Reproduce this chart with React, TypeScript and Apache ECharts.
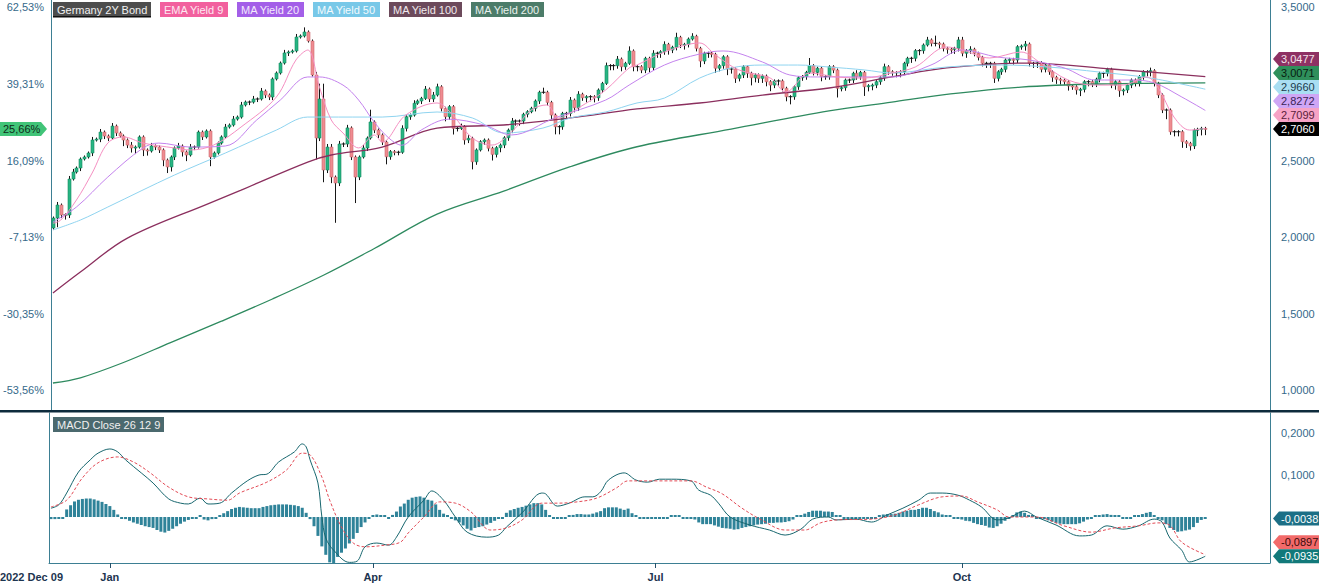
import React, { useEffect, useRef } from "react";
import * as echarts from "echarts";

// ---------------- DATA ----------------
const firstOpen = 2.059;
const basePrice = 2.1535; // price equal to 0 % on the left scale
const startDateLabel = "2022 Dec 09";

const closesPart1 = [
  2.124, 2.209, 2.144, 2.144, 2.379, 2.425, 2.451, 2.510, 2.523, 2.549,
  2.634, 2.640, 2.686, 2.660, 2.647, 2.725, 2.680, 2.660, 2.634, 2.601,
  2.582, 2.588, 2.654, 2.569, 2.562, 2.595, 2.588, 2.569, 2.503, 2.458,
  2.523, 2.582, 2.595, 2.556, 2.536, 2.588, 2.588, 2.686, 2.654, 2.693,
  2.523, 2.549, 2.614, 2.654, 2.719, 2.732, 2.771, 2.784, 2.863, 2.882,
  2.882, 2.902, 2.902, 2.954, 2.928, 2.915, 3.033, 3.072, 3.137, 3.203,
  3.209, 3.216, 3.307, 3.314, 3.340, 3.281, 3.059, 2.647, 2.902, 2.438,
  2.588, 2.392, 2.353, 2.608, 2.608, 2.713, 2.523, 2.392, 2.523, 2.582,
  2.647, 2.752, 2.699, 2.667, 2.621,
];
const closesPart2 = [
  2.525, 2.558, 2.554, 2.554, 2.710, 2.786, 2.797, 2.874, 2.889, 2.906,
  2.967, 2.902, 2.928, 2.982, 2.841, 2.786, 2.852, 2.710, 2.710, 2.721,
  2.634, 2.645, 2.492, 2.569, 2.623, 2.634, 2.580, 2.540, 2.584, 2.601,
  2.649, 2.699, 2.758, 2.758, 2.758, 2.802, 2.819, 2.841, 2.889, 2.946,
  2.946, 2.880, 2.797, 2.721, 2.721, 2.808, 2.808, 2.895, 2.845, 2.933,
  2.910, 2.917, 2.917, 2.910, 2.961, 3.004, 3.120, 3.120, 3.120, 3.163,
  3.113, 3.135, 3.216, 3.113, 3.113, 3.091,
];
const closesPart3 = [
  3.168, 3.107, 3.201, 3.201, 3.211, 3.259, 3.222, 3.240, 3.305, 3.255,
  3.259, 3.294, 3.312, 3.233, 3.150, 3.201, 3.201, 3.194, 3.103, 3.120,
  3.178, 3.098, 3.098, 3.037, 3.059, 3.113, 3.070, 3.041, 3.059, 3.037,
  3.052, 3.015, 2.993, 3.020, 3.020, 2.972, 2.917, 2.917, 2.982, 3.041,
  3.048, 3.076, 3.120, 3.076, 3.103, 3.048, 3.048, 3.113, 3.091, 2.972,
  2.976, 3.026, 3.026, 3.070, 3.048, 3.076, 2.982, 2.989, 2.993, 3.015,
  3.041, 3.113, 3.080,
];
const closesPart4 = [
  3.074, 3.074, 3.080, 3.135, 3.168, 3.168, 3.218, 3.218, 3.255, 3.288,
  3.266, 3.266, 3.261, 3.233, 3.228, 3.227, 3.233, 3.288, 3.201, 3.218,
  3.227, 3.201, 3.174, 3.135, 3.135, 3.135, 3.037, 3.080, 3.096, 3.157,
  3.161, 3.157, 3.244, 3.248, 3.261, 3.135, 3.135, 3.139, 3.096, 3.124,
  3.080, 3.044, 3.031, 3.026, 3.015, 2.987, 2.982, 2.961, 2.965, 3.015,
  3.015, 3.000, 3.031, 3.070, 3.070, 3.096, 2.993, 3.015, 2.956, 2.961,
  2.993, 3.026, 3.004, 3.048, 3.080, 3.080, 3.087, 3.004, 2.928, 2.830,
  2.830, 2.688, 2.688, 2.688, 2.623, 2.612, 2.595, 2.699, 2.704, 2.710,
  2.706,
];

// wick lengths beyond the body, in hundredths of a yield point
const upperWickPart1 = [
  1, 2, 1, 1, 2, 2, 1, 1, 1, 1, 2, 1, 2, 1, 1, 2, 1, 1, 1, 1,
  2, 1, 1, 1, 1, 2, 1, 1, 1, 1, 1, 1, 2, 1, 1, 2, 1, 1, 1, 1,
  1, 1, 1, 1, 2, 1, 2, 1, 2, 1, 1, 2, 1, 2, 1, 1, 1, 1, 1, 2,
  1, 1, 2, 1, 3, 1, 1, 2, 10, 10, 2, 2, 1, 2, 1, 2, 1, 1, 1, 2,
  1, 8, 1, 1, 1,
];
const lowerWickPart1 = [
  1, 6, 2, 3, 2, 1, 1, 2, 1, 1, 2, 1, 2, 2, 2, 1, 2, 1, 4, 2,
  3, 4, 1, 4, 3, 1, 2, 2, 4, 4, 3, 2, 1, 3, 4, 1, 2, 1, 2, 1,
  6, 1, 1, 1, 1, 1, 1, 1, 1, 1, 2, 1, 2, 1, 2, 2, 2, 1, 1, 1,
  2, 1, 1, 1, 1, 1, 1, 14, 2, 8, 2, 4, 26, 2, 2, 2, 2, 17, 2, 1,
  2, 1, 2, 2, 2,
];
const upperWickPart2 = [
  1, 1, 1, 1, 2, 1, 1, 2, 1, 1, 2, 1, 2, 2, 1, 1, 1, 1, 1, 2,
  1, 2, 1, 1, 1, 1, 1, 1, 1, 1, 1, 1, 2, 1, 1, 1, 1, 1, 1, 1,
  3, 1, 1, 1, 1, 1, 1, 2, 1, 2, 1, 1, 1, 1, 1, 1, 2, 1, 1, 2,
  1, 1, 3, 1, 1, 1,
];
const lowerWickPart2 = [
  5, 2, 2, 2, 1, 2, 2, 1, 1, 2, 1, 2, 2, 1, 2, 3, 2, 4, 2, 1,
  3, 2, 5, 2, 1, 2, 2, 4, 2, 3, 2, 2, 2, 3, 3, 2, 2, 1, 2, 2,
  1, 2, 3, 5, 5, 2, 3, 2, 3, 2, 2, 3, 3, 3, 2, 2, 1, 3, 3, 2,
  3, 2, 1, 3, 3, 2,
];
const upperWickPart3 = [
  1, 1, 2, 1, 1, 2, 1, 1, 3, 1, 1, 1, 2, 1, 1, 1, 1, 1, 1, 1,
  1, 1, 1, 1, 1, 1, 1, 1, 1, 1, 1, 1, 1, 1, 1, 1, 1, 1, 1, 1,
  1, 1, 5, 1, 1, 1, 1, 1, 1, 1, 1, 1, 1, 1, 2, 1, 1, 1, 1, 1,
  1, 2, 1,
];
const lowerWickPart3 = [
  2, 3, 2, 3, 3, 2, 3, 2, 2, 2, 3, 2, 1, 2, 4, 2, 3, 2, 3, 2,
  2, 4, 3, 3, 2, 2, 3, 5, 3, 3, 3, 3, 4, 2, 3, 2, 3, 5, 2, 2,
  2, 2, 1, 2, 2, 3, 2, 2, 2, 6, 2, 2, 2, 2, 2, 2, 6, 3, 3, 2,
  2, 2, 2,
];
const upperWickPart4 = [
  1, 1, 1, 1, 1, 1, 1, 1, 1, 2, 1, 5, 1, 1, 1, 1, 1, 2, 2, 1,
  2, 1, 1, 1, 1, 1, 1, 1, 1, 1, 1, 1, 1, 1, 2, 1, 1, 1, 1, 1,
  1, 1, 1, 1, 1, 1, 1, 1, 1, 1, 1, 1, 1, 1, 1, 1, 1, 1, 1, 1,
  1, 1, 1, 1, 1, 1, 2, 1, 1, 1, 1, 1, 1, 1, 1, 1, 1, 1, 1, 1,
  1,
];
const lowerWickPart4 = [
  2, 3, 3, 2, 2, 3, 2, 3, 2, 1, 2, 2, 3, 2, 3, 3, 3, 2, 2, 3,
  2, 2, 2, 2, 3, 3, 3, 2, 2, 2, 2, 3, 2, 2, 3, 2, 3, 3, 2, 2,
  2, 3, 3, 3, 2, 3, 2, 3, 4, 2, 3, 2, 2, 2, 3, 2, 2, 3, 4, 3,
  2, 2, 2, 2, 2, 3, 3, 2, 2, 2, 6, 2, 3, 3, 4, 3, 3, 2, 4, 4,
  4,
];

// moving averages: [candle index, value]
const ema9Points = [
  [0, 2.09], [2, 2.111], [6, 2.242], [10, 2.418], [14, 2.614], [18, 2.654], [23, 2.614], [31, 2.582],
  [35, 2.569], [41, 2.601], [48, 2.719], [57, 2.915], [62, 3.157], [65, 3.222], [68, 2.98], [71, 2.765],
  [74, 2.68], [78, 2.582], [82, 2.667], [84, 2.621], [90, 2.797], [98, 2.876], [102, 2.797], [107, 2.647],
  [112, 2.601], [117, 2.686], [122, 2.83], [126, 2.863], [129, 2.778], [134, 2.843], [141, 2.961],
  [147, 3.105], [149, 3.124], [156, 3.209], [165, 3.268], [169, 3.19], [175, 3.092], [183, 3.039],
  [187, 2.948], [193, 3.072], [200, 3.046], [207, 3.039], [214, 3.072], [220, 3.111], [228, 3.242],
  [232, 3.222], [239, 3.17], [247, 3.209], [252, 3.137], [259, 3.026], [266, 2.993], [273, 2.993],
  [279, 3.046], [282, 2.974], [286, 2.784], [290, 2.699], [294, 2.7099],
];
const ma20Points = [
  [0, 2.098], [6, 2.196], [14, 2.392], [23, 2.582], [27, 2.614], [35, 2.588], [44, 2.595], [52, 2.765],
  [58, 2.895], [65, 3.046], [68, 3.046], [74, 2.993], [78, 2.895], [82, 2.75], [86, 2.64], [89, 2.6],
  [94, 2.7], [101, 2.77], [110, 2.732], [117, 2.667], [128, 2.778], [141, 2.895], [147, 2.993],
  [156, 3.124], [165, 3.196], [171, 3.216], [181, 3.144], [188, 3.059], [195, 3.046], [207, 3.046],
  [214, 3.046], [224, 3.124], [232, 3.222], [241, 3.176], [249, 3.157], [258, 3.105], [266, 3.026],
  [275, 3.026], [281, 3.007], [288, 2.915], [294, 2.8272],
];
const ma50Points = [
  [0, 2.046], [7, 2.111], [14, 2.196], [31, 2.405], [44, 2.549], [57, 2.699], [65, 2.784], [69, 2.784],
  [84, 2.784], [98, 2.817], [107, 2.778], [115, 2.68], [125, 2.712], [132, 2.778], [141, 2.817],
  [149, 2.876], [156, 2.908], [165, 3.039], [173, 3.105], [181, 3.124], [190, 3.124], [198, 3.111],
  [207, 3.092], [214, 3.072], [228, 3.111], [242, 3.124], [254, 3.111], [267, 3.078], [280, 3.039],
  [294, 2.966],
];
const ma100Points = [
  [0, 1.634], [7, 1.771], [19, 1.993], [40, 2.222], [48, 2.307], [65, 2.49], [71, 2.536], [84, 2.588],
  [98, 2.712], [115, 2.732], [132, 2.778], [149, 2.837], [165, 2.876], [181, 2.928], [198, 2.974],
  [214, 3.046], [228, 3.105], [249, 3.137], [270, 3.098], [294, 3.0477],
];
const ma200Points = [
  [0, 1.046], [7, 1.08], [18, 1.18], [30, 1.31], [43, 1.45], [56, 1.595], [69, 1.75], [82, 1.925],
  [98, 2.15], [115, 2.3], [132, 2.46], [149, 2.59], [173, 2.705], [198, 2.824], [214, 2.882],
  [229, 2.935], [247, 2.98], [267, 3.0], [294, 3.0071],
];

// MACD (26, 12, 9)
const macdPoints = [
  [0, 0.021], [2, 0.029], [4, 0.057], [7, 0.107], [10, 0.136], [12, 0.152], [15, 0.162], [17, 0.155],
  [19, 0.136], [23, 0.105], [26, 0.081], [30, 0.043], [33, 0.033], [35, 0.031], [38, 0.045], [40, 0.031],
  [43, 0.033], [46, 0.057], [50, 0.086], [53, 0.1], [55, 0.102], [58, 0.131], [62, 0.155], [64, 0.174],
  [65, 0.167], [66, 0.136], [68, 0.081], [69, 0.0], [70, -0.05], [72, -0.079], [76, -0.108], [78, -0.105],
  [80, -0.071], [83, -0.062], [86, -0.067], [88, -0.048], [91, 0.0], [95, 0.04], [97, 0.062], [100, 0.04],
  [103, 0.0], [106, -0.036], [111, -0.048], [114, -0.043], [116, -0.024], [120, 0.01], [125, 0.057],
  [126, 0.055], [129, 0.026], [132, 0.033], [136, 0.048], [138, 0.048], [140, 0.06], [142, 0.088],
  [146, 0.105], [149, 0.088], [152, 0.083], [155, 0.09], [158, 0.09], [163, 0.086], [165, 0.064],
  [168, 0.052], [170, 0.033], [173, 0.0], [178, -0.019], [183, -0.031], [187, -0.043], [191, -0.029],
  [194, -0.005], [198, 0.0], [200, -0.007], [205, -0.005], [209, -0.012], [213, 0.005], [217, 0.021],
  [221, 0.04], [224, 0.057], [227, 0.057], [231, 0.052], [234, 0.04], [237, 0.024], [241, -0.007],
  [244, -0.002], [248, 0.014], [251, 0.0], [256, -0.019], [262, -0.045], [265, -0.043], [269, -0.021],
  [273, -0.029], [277, -0.021], [281, -0.005], [283, -0.012], [285, -0.05], [288, -0.079], [290, -0.107],
  [294, -0.0935],
];
const signalPoints = [
  [0, 0.024], [4, 0.04], [8, 0.093], [12, 0.129], [17, 0.143], [21, 0.131], [25, 0.107], [30, 0.071],
  [35, 0.048], [40, 0.043], [45, 0.04], [48, 0.057], [55, 0.083], [60, 0.112], [64, 0.152], [66, 0.148],
  [69, 0.095], [71, 0.04], [74, -0.024], [77, -0.062], [80, -0.071], [85, -0.067], [89, -0.06],
  [91, -0.038], [95, 0.0], [99, 0.036], [103, 0.033], [107, 0.012], [112, -0.031], [116, -0.026],
  [120, -0.007], [125, 0.033], [129, 0.033], [134, 0.036], [139, 0.045], [144, 0.069], [147, 0.086],
  [154, 0.086], [163, 0.086], [167, 0.071], [171, 0.055], [176, 0.021], [181, -0.007], [187, -0.031],
  [192, -0.031], [196, -0.014], [200, -0.007], [209, -0.005], [215, 0.005], [221, 0.029], [227, 0.048],
  [232, 0.05], [236, 0.036], [241, 0.017], [244, 0.0], [251, 0.0], [258, -0.021], [265, -0.036],
  [271, -0.026], [277, -0.021], [282, -0.014], [285, -0.02], [288, -0.06], [294, -0.0897],
];
const histPart1 = [
  -0.005, -0.005, -0.004, -0.003, 0.018, 0.028, 0.037, 0.041, 0.043, 0.044,
  0.044, 0.042, 0.039, 0.036, 0.031, 0.026, 0.017, 0.006, -0.001, -0.005,
  -0.009, -0.013, -0.016, -0.019, -0.022, -0.024, -0.026, -0.031, -0.035, -0.037,
  -0.033, -0.028, -0.022, -0.016, -0.011, -0.007, -0.004, -0.002, 0.002, -0.006,
  -0.008, -0.005, -0.001, 0.004, 0.009, 0.014, 0.019, 0.022, 0.024, 0.023,
  0.022, 0.021, 0.021, 0.021, 0.024, 0.026, 0.028, 0.029, 0.030, 0.030,
  0.030, 0.029, 0.028, 0.026, 0.022, 0.010, -0.005, -0.022, -0.045, -0.070,
  -0.090, -0.108, -0.111, -0.095, -0.085, -0.075, -0.063, -0.052, -0.038, -0.024,
  -0.013, -0.004, 0.004, 0.006, 0.004,
];
const histPart2 = [
  0.000, -0.001, 0.005, 0.013, 0.025,
  0.032, 0.041, 0.046, 0.048, 0.049, 0.046, 0.041, 0.039, 0.030, 0.017,
  0.008, 0.001, -0.004, -0.008, -0.013, -0.020, -0.028, -0.032, -0.026, -0.024,
  -0.022, -0.018, -0.014, -0.009, -0.004, -0.002, 0.010, 0.016, 0.019, 0.022,
  0.024, 0.027, 0.030, 0.033, 0.033, 0.030, 0.017, 0.002, -0.002, -0.002,
  -0.002, -0.001, 0.002, 0.005, 0.007, 0.007, 0.006, 0.006, 0.008, 0.011,
  0.014, 0.021, 0.023, 0.023, 0.023, 0.020, 0.017, 0.020, 0.009, 0.002,
  -0.001,
];
const histPart3 = [
  -0.002, -0.002, -0.002, -0.002, -0.001, -0.001, -0.001, 0.000, 0.002,
  0.000, -0.001, -0.002, -0.002, -0.006, -0.013, -0.017, -0.017, -0.017, -0.020,
  -0.023, -0.026, -0.027, -0.028, -0.030, -0.029, -0.026, -0.024, -0.022, -0.020,
  -0.018, -0.017, -0.016, -0.014, -0.014, -0.013, -0.013, -0.012, -0.010, -0.006,
  0.000, 0.003, 0.008, 0.012, 0.015, 0.015, 0.015, 0.013, 0.013, 0.012,
  0.004, 0.002, -0.001, -0.001, -0.002, -0.002, -0.001, -0.003, -0.004, -0.004,
  -0.002, 0.002, 0.006, 0.007,
];
const histPart4 = [
  0.007, 0.008, 0.010, 0.013, 0.015, 0.017,
  0.017, 0.019, 0.022, 0.022, 0.019, 0.014, 0.011, 0.006, 0.003, 0.001,
  -0.001, -0.003, -0.006, -0.009, -0.010, -0.014, -0.017, -0.019, -0.021, -0.025,
  -0.026, -0.022, -0.016, -0.009, -0.001, 0.004, 0.011, 0.013, 0.010, 0.005,
  0.000, -0.002, -0.002, -0.005, -0.008, -0.011, -0.014, -0.016, -0.017, -0.017,
  -0.017, -0.017, -0.015, -0.011, -0.006, -0.002, 0.000, 0.002, 0.006, 0.007,
  0.005, 0.003, 0.000, -0.001, -0.001, -0.001, 0.000, 0.003, 0.007, 0.010,
  0.012, 0.004, -0.002, -0.008, -0.017, -0.026, -0.031, -0.035, -0.034, -0.032,
  -0.030, -0.024, -0.014, -0.007, -0.0038,
];

const monthTicks = [
  { index: 15, label: "Jan" },
  { index: 82, label: "Apr" },
  { index: 154, label: "Jul" },
  { index: 232, label: "Oct" },
];
const priceTicksRight = [1.0, 1.5, 2.0, 2.5, 3.5];
const priceTicksLeft = [1.0, 1.5, 2.0, 2.5, 3.0, 3.5];
const macdTicks = [0.1, 0.2];
const legendLabels = ["Germany 2Y Bond", "EMA Yield 9", "MA Yield 20", "MA Yield 50", "MA Yield 100", "MA Yield 200"];
const macdTitle = "MACD Close 26 12 9";
const priceMarkerValues = [3.0477, 3.0071, 2.966, 2.8272, 2.7099, 2.706];
const macdMarkerValues = [-0.0038, -0.0897, -0.0935];

// ---------------- STYLE ----------------
const FONT = '"Liberation Sans", Arial, Helvetica, sans-serif';
const AXIS_COLOR = "#3d7f93";
const LABEL_COLOR = "#35698a";
const slotCount = 311;
const legendStyles = [
  { bg: "#4d4d4d", fg: "#f2f2f2" },
  { bg: "#f2609e", fg: "#fde8f1" },
  { bg: "#a35fe8", fg: "#f3eafc" },
  { bg: "#78c8e8", fg: "#f2fafd" },
  { bg: "#6c4a5b", fg: "#f1e9ed" },
  { bg: "#4c7c69", fg: "#eaf2ee" },
];
const priceMarkerStyles = [
  { bg: "#8e3163", fg: "#f3e4ec" },
  { bg: "#2f8f5b", fg: "#08200f" },
  { bg: "#a9def2", fg: "#1b3b4b" },
  { bg: "#cfa6f5", fg: "#3a1e55" },
  { bg: "#f7a3c6", fg: "#5a1d3a" },
  { bg: "#000000", fg: "#ffffff" },
];
const macdMarkerStyles = [
  { bg: "#1c6f86", fg: "#ffffff" },
  { bg: "#f26a6a", fg: "#3a0a0a" },
  { bg: "#12797a", fg: "#ffffff" },
];

const fmt4 = (v: number) => v.toFixed(4).replace(".", ",");
const fmtPct = (v: number) => ((v / basePrice - 1) * 100).toFixed(2).replace(".", ",") + "%";

export default function App() {
  const ref = useRef<HTMLDivElement>(null);

  useEffect(() => {
    if (!ref.current) return;
    const chart = echarts.init(ref.current, undefined, { renderer: "svg" });

    const closes = [...closesPart1, ...closesPart2, ...closesPart3, ...closesPart4];
    const upW = [...upperWickPart1, ...upperWickPart2, ...upperWickPart3, ...upperWickPart4];
    const dnW = [...lowerWickPart1, ...lowerWickPart2, ...lowerWickPart3, ...lowerWickPart4];
    const hist = [...histPart1, ...histPart2, ...histPart3, ...histPart4];
    const candleData = closes.map((c, i) => {
      const o = i === 0 ? firstOpen : closes[i - 1];
      const h = Math.max(o, c) + (upW[i] || 0) / 100;
      const l = Math.min(o, c) - (dnW[i] || 0) / 100;
      return [i, o, c, l, h];
    });
    const cats = Array.from({ length: slotCount }, (_, i) => String(i));
    const monthMap: Record<number, string> = {};
    monthTicks.forEach((m) => (monthMap[m.index] = m.label));
    const isMonth = (idx: number) => monthMap[idx] !== undefined;

    const priceMin = 0.863, priceMax = 3.549;
    const macdMin = -0.1095, macdMax = 0.2476;

    const renderCandle = (params: any, api: any) => {
      const idx = api.value(0);
      const o = api.value(1), c = api.value(2), l = api.value(3), h = api.value(4);
      const pO = api.coord([idx, o]);
      const pC = api.coord([idx, c]);
      const pL = api.coord([idx, l]);
      const pH = api.coord([idx, h]);
      const slot = api.size([1, 0])[0];
      const bw = Math.max(2, Math.round(slot * 0.8));
      const cx = Math.round(pO[0]) + 0.5;
      const top = Math.min(pO[1], pC[1]);
      const bot = Math.max(pO[1], pC[1]);
      const doji = Math.abs(o - c) < 1e-9;
      const up = c > o;
      const children: any[] = [
        { type: "line", shape: { x1: cx, y1: pH[1], x2: cx, y2: pL[1] }, style: { stroke: "#161616", lineWidth: 1 } },
      ];
      if (doji) {
        children.push({
          type: "line",
          shape: { x1: cx - bw / 2 - 0.5, y1: pC[1], x2: cx + bw / 2 + 0.5, y2: pC[1] },
          style: { stroke: "#161616", lineWidth: 1 },
        });
      } else {
        children.push({
          type: "rect",
          shape: { x: cx - bw / 2, y: top, width: bw, height: Math.max(1, bot - top) },
          style: { fill: up ? "#27b583" : "#ef8c91", stroke: up ? "#148a5f" : "#cf6a70", lineWidth: 0.6 },
        });
      }
      return { type: "group", children };
    };

    const lineSeries = (data: any, color: string, width: number, xi: number, yi: number, extra: any = {}) => ({
      type: "line",
      xAxisIndex: xi,
      yAxisIndex: yi,
      data,
      showSymbol: false,
      smooth: 0.35,
      silent: true,
      z: 4,
      lineStyle: { color, width, ...extra },
    });

    const baseYAxis = (grid: number, pos: string, min: number, max: number) => ({
      gridIndex: grid,
      type: "value",
      position: pos,
      min,
      max,
      splitLine: { show: false },
      axisTick: { show: false },
      axisLine: { show: true, onZero: false, lineStyle: { color: AXIS_COLOR, width: 1 } },
    });

    const option: any = {
      animation: false,
      backgroundColor: "#ffffff",
      grid: [
        { left: 49, right: 49, top: 0, height: 411 },
        { left: 49, right: 49, top: 413, height: 150 },
      ],
      xAxis: [
        {
          gridIndex: 0, type: "category", data: cats, boundaryGap: true, position: "bottom",
          axisLine: { show: false, onZero: false }, axisTick: { show: false }, axisLabel: { show: false },
        },
        {
          gridIndex: 1, type: "category", data: cats, boundaryGap: true, position: "bottom",
          axisLine: { show: true, onZero: false, lineStyle: { color: AXIS_COLOR, width: 1 } },
          axisTick: { show: true, alignWithLabel: true, interval: isMonth, length: 5, lineStyle: { color: "#24506a" } },
          axisLabel: {
            interval: isMonth,
            formatter: (_v: string, i: number) => monthMap[i] || "",
            color: "#1d3550", fontWeight: "bold", fontSize: 11, fontFamily: FONT, margin: 8,
          },
        },
      ],
      yAxis: [
        {
          ...baseYAxis(0, "right", priceMin, priceMax),
          axisLabel: { customValues: priceTicksRight, formatter: fmt4, color: LABEL_COLOR, fontSize: 11, fontFamily: FONT, margin: 11 },
        },
        {
          ...baseYAxis(0, "left", priceMin, priceMax),
          axisLabel: { customValues: priceTicksLeft, formatter: fmtPct, color: LABEL_COLOR, fontSize: 11, fontFamily: FONT, margin: 7 },
        },
        {
          ...baseYAxis(1, "right", macdMin, macdMax),
          axisLabel: { customValues: macdTicks, formatter: fmt4, color: LABEL_COLOR, fontSize: 11, fontFamily: FONT, margin: 11 },
        },
        {
          ...baseYAxis(1, "left", macdMin, macdMax),
          axisLabel: { show: false },
        },
      ],
      series: [
        lineSeries(ma200Points, "#2e8a5f", 1.3, 0, 0),
        lineSeries(ma100Points, "#8b2f5e", 1.3, 0, 0),
        {
          type: "custom",
          name: legendLabels[0],
          xAxisIndex: 0,
          yAxisIndex: 0,
          data: candleData,
          encode: { x: 0, y: [1, 2, 3, 4] },
          renderItem: renderCandle,
          clip: true,
          silent: true,
          z: 3,
        },
        lineSeries(ma50Points, "#8fd4f0", 1, 0, 0),
        lineSeries(ma20Points, "#c483ee", 1, 0, 0),
        lineSeries(ema9Points, "#f58fc2", 1, 0, 0),
        {
          type: "bar",
          xAxisIndex: 1,
          yAxisIndex: 2,
          data: hist,
          barWidth: 3,
          barMinHeight: 2,
          silent: true,
          itemStyle: { color: "#2f8399" },
        },
        lineSeries(macdPoints, "#17666e", 1, 1, 2, {}),
        lineSeries(signalPoints, "#e24a55", 1, 1, 2, { type: [3, 2] }),
      ],
    };
    chart.setOption(option);

    // ---------- graphics ----------
    const canvas = document.createElement("canvas");
    const ctx = canvas.getContext("2d") as CanvasRenderingContext2D;
    ctx.font = `11px ${FONT}`;
    const graphics: any[] = [];

    // separator between panels
    graphics.push({ type: "rect", shape: { x: 0, y: 410, width: 1319, height: 2.5 }, style: { fill: "#0e2b3c" }, z: 50 });

    // legend boxes
    let lx = 53;
    legendLabels.forEach((label, i) => {
      const w = Math.round(ctx.measureText(label).width) + 8;
      graphics.push({ type: "rect", shape: { x: lx, y: 2, width: w, height: 15 }, style: { fill: legendStyles[i].bg }, z: 60 });
      if (i === 0) graphics.push({ type: "rect", shape: { x: lx, y: 16, width: w, height: 1.5 }, style: { fill: "#111" }, z: 61 });
      graphics.push({
        type: "text", x: lx + 4, y: 9.5, z: 62,
        style: { text: label, fill: legendStyles[i].fg, fontSize: 11, fontFamily: FONT, verticalAlign: "middle", align: "left" },
      });
      lx += w + 9;
    });

    // MACD title box
    const mw = Math.round(ctx.measureText(macdTitle).width) + 8;
    graphics.push({ type: "rect", shape: { x: 53, y: 417, width: mw, height: 15 }, style: { fill: "#4b696e" }, z: 60 });
    graphics.push({
      type: "text", x: 57, y: 424.5, z: 62,
      style: { text: macdTitle, fill: "#f0f0f0", fontSize: 11, fontFamily: FONT, verticalAlign: "middle", align: "left" },
    });

    // start date label
    graphics.push({
      type: "text", x: 0, y: 577, z: 62,
      style: { text: startDateLabel, fill: "#1d3550", fontSize: 11, fontWeight: "bold", fontFamily: FONT, verticalAlign: "middle", align: "left" },
    });

    const stack = (vals: number[], yAxisIndex: number, gap: number) => {
      const items = vals.map((v, i) => ({ v, i, y: chart.convertToPixel({ yAxisIndex }, v) as number, ly: 0 }));
      const sorted = [...items].sort((a, b) => b.y - a.y);
      let prev = Infinity;
      sorted.forEach((it) => {
        it.ly = Math.min(it.y, prev - gap);
        prev = it.ly;
      });
      return items;
    };

    const rightMarker = (y: number, text: string, st: { bg: string; fg: string }) => {
      const x0 = 1273;
      graphics.push({
        type: "polygon", z: 70,
        shape: { points: [[x0, y], [x0 + 6, y - 7], [1319, y - 7], [1319, y + 7], [x0 + 6, y + 7]] },
        style: { fill: st.bg },
      });
      graphics.push({
        type: "text", x: x0 + 8, y, z: 71,
        style: { text, fill: st.fg, fontSize: 11, fontFamily: FONT, verticalAlign: "middle", align: "left" },
      });
    };

    stack(priceMarkerValues, 0, 14).forEach((it) => rightMarker(it.ly, fmt4(it.v), priceMarkerStyles[it.i]));
    stack(macdMarkerValues, 2, 14).forEach((it) => rightMarker(it.ly, fmt4(it.v), macdMarkerStyles[it.i]));

    // left percent marker for the last close
    const lastClose = closes[closes.length - 1];
    const ly = chart.convertToPixel({ yAxisIndex: 0 }, lastClose) as number;
    graphics.push({
      type: "polygon", z: 70,
      shape: { points: [[0, ly - 7], [41, ly - 7], [47, ly], [41, ly + 7], [0, ly + 7]] },
      style: { fill: "#41c478" },
    });
    graphics.push({
      type: "text", x: 3, y: ly, z: 71,
      style: { text: fmtPct(lastClose), fill: "#0f2a1a", fontSize: 11, fontFamily: FONT, verticalAlign: "middle", align: "left" },
    });

    chart.setOption({ graphic: graphics });

    return () => chart.dispose();
  }, []);

  return (
    <div
      ref={ref}
      style={{ position: "fixed", left: 0, top: 0, width: 1319, height: 584, background: "#ffffff" }}
    />
  );
}
